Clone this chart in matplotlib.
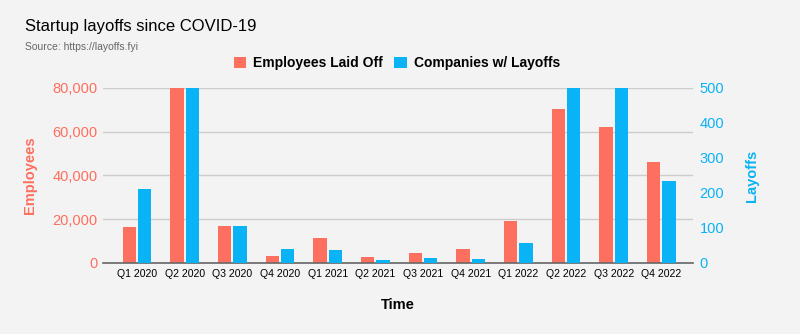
import matplotlib
matplotlib.use("Agg")
from matplotlib import pyplot as plt
from matplotlib.ticker import FuncFormatter
import numpy as np

quarters = ["Q1 2020", "Q2 2020", "Q3 2020", "Q4 2020", "Q1 2021", "Q2 2021",
            "Q3 2021", "Q4 2021", "Q1 2022", "Q2 2022", "Q3 2022", "Q4 2022"]
employees = [16600, 80500, 16900, 3200, 11600, 2700, 4400, 6500, 19300, 70500, 62200, 46300]
companies = [211, 505, 106, 39, 36, 8, 15, 12, 58, 505, 505, 233]

red = "#fd6f5f"
blue = "#0ab3f5"
bg = "#f3f3f3"

plt.rcParams["font.family"] = ["Liberation Sans", "DejaVu Sans"]

fig = plt.figure(figsize=(8, 3.34), dpi=100, facecolor=bg)
ax = fig.add_axes([0.129, 0.2126, 0.737, 0.524], facecolor=bg)
ax2 = ax.twinx()

x = np.arange(len(quarters))
w = 0.28
ax.bar(x - 0.162, employees, w, color=red, zorder=3, label="Employees Laid Off")
ax2.bar(x + 0.162, companies, w, color=blue, zorder=3, label="Companies w/ Layoffs")

ax.set_ylim(0, 80000)
ax2.set_ylim(0, 500)
ax.set_xlim(-0.71, 11.66)
ax.set_yticks([0, 20000, 40000, 60000, 80000])
ax2.set_yticks([0, 100, 200, 300, 400, 500])
ax.yaxis.set_major_formatter(FuncFormatter(lambda v, p: f"{int(v):,}"))
ax.set_xticks(x)
ax.set_xticklabels(quarters, fontsize=7.6)

ax.grid(axis="y", color="#cccccc", linewidth=1, zorder=0)
for a in (ax, ax2):
    for s in a.spines.values():
        s.set_visible(False)
    a.tick_params(length=0)
ax.spines["bottom"].set_visible(True)
ax.spines["bottom"].set_color("#666666")
ax.spines["bottom"].set_linewidth(1.2)
ax.spines["bottom"].set_zorder(5)

ax.tick_params(axis="y", labelcolor=red, labelsize=10.5, pad=4)
ax2.tick_params(axis="y", labelcolor=blue, labelsize=10.5, pad=5)
ax.tick_params(axis="x", pad=4)

ax.set_ylabel("Employees", color=red, fontsize=10.5, fontweight="bold", labelpad=11)
ax2.set_ylabel("Layoffs", color=blue, fontsize=10.5, fontweight="bold", labelpad=15)
ax.set_xlabel("Time", fontsize=10.5, fontweight="bold", labelpad=14)

fig.text(0.031, 0.92, "Startup layoffs since COVID-19", fontsize=12, va="center")
fig.text(0.031, 0.86, "Source: https://layoffs.fyi", fontsize=7.5, color="#666666", va="center")

h1, l1 = ax.get_legend_handles_labels()
h2, l2 = ax2.get_legend_handles_labels()
leg = fig.legend(h1 + h2, l1 + l2, loc="center", bbox_to_anchor=(0.496, 0.81), ncol=2,
                 frameon=False, prop={"weight": "bold", "size": 10},
                 handlelength=0.9, handleheight=0.9, handletextpad=0.5, columnspacing=0.8)

fig.savefig("out.png", dpi=100, facecolor=bg)
